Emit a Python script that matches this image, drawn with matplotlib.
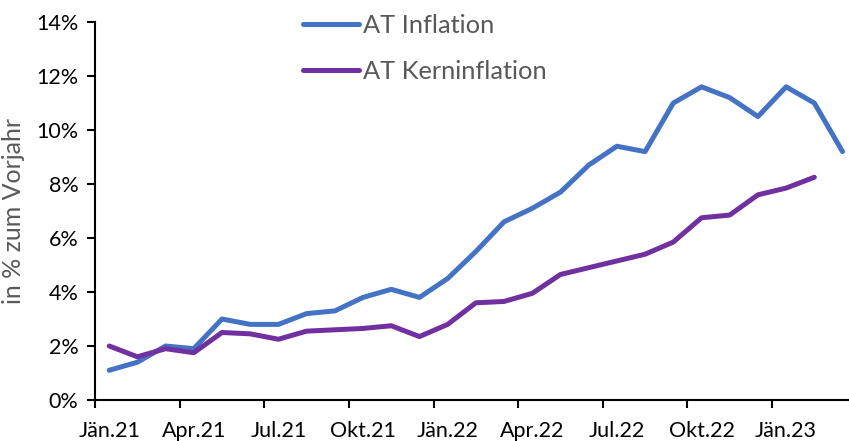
import numpy as np
import matplotlib.pyplot as plt

plt.rcParams['font.family'] = ['Lato', 'DejaVu Sans']

months = ['Jän.21', 'Feb.21', 'Mär.21', 'Apr.21', 'Mai.21', 'Jun.21', 'Jul.21', 'Aug.21', 'Sep.21',
          'Okt.21', 'Nov.21', 'Dez.21', 'Jän.22', 'Feb.22', 'Mär.22', 'Apr.22', 'Mai.22', 'Jun.22',
          'Jul.22', 'Aug.22', 'Sep.22', 'Okt.22', 'Nov.22', 'Dez.22', 'Jän.23', 'Feb.23', 'Mär.23']

# Werte in % zum Vorjahr
inflation = [1.1, 1.4, 2.0, 1.9, 3.0, 2.8, 2.8, 3.2, 3.3, 3.8, 4.1, 3.8,
             4.5, 5.5, 6.6, 7.1, 7.7, 8.7, 9.4, 9.2, 11.0, 11.6, 11.2,
             10.5, 11.6, 11.0, 9.2]
kern = [2.0, 1.6, 1.9, 1.75, 2.5, 2.45, 2.25, 2.55, 2.6, 2.65, 2.75, 2.35,
        2.8, 3.6, 3.65, 3.95, 4.65, 4.9, 5.15, 5.4, 5.85, 6.75, 6.85,
        7.6, 7.85, 8.25]

fig = plt.figure(figsize=(8.49, 4.41), dpi=100)
ax = fig.add_axes([0.112, 0.093, 0.897, 0.857])

x = np.arange(len(months))
ax.plot(x, inflation, color='#4472C4', lw=3.6, solid_capstyle='round', label='AT Inflation')
ax.plot(x[:len(kern)], kern, color='#7030A0', lw=3.6, solid_capstyle='round', label='AT Kerninflation')

ax.set_xlim(-0.5, 26.5)
ax.set_ylim(0, 14)
ax.set_yticks(range(0, 15, 2))
ax.set_yticklabels([f'{v}%' for v in range(0, 15, 2)])

# Striche an den Kategoriegrenzen, Beschriftung in der Mitte
ax.set_xticks(np.arange(-0.5, 27, 3))
ax.set_xticklabels([])
ax.set_xticks(x[::3], minor=True)
ax.set_xticklabels(months[::3], minor=True)
ax.tick_params(axis='x', which='minor', length=0, pad=15, labelsize=15.5)
ax.tick_params(axis='x', which='major', length=6, width=1.5, direction='out')
ax.tick_params(axis='y', length=6, width=1.5, direction='out', labelsize=15.5, pad=6)

for s in ['top', 'right']:
    ax.spines[s].set_visible(False)
for s in ['left', 'bottom']:
    ax.spines[s].set_linewidth(1.5)

ax.set_ylabel('in % zum Vorjahr', color='#595959', fontsize=18, labelpad=8)

leg = ax.legend(loc='upper left', bbox_to_anchor=(303 / 849, 0.968), bbox_transform=fig.transFigure,
                frameon=False, fontsize=18.3, handlelength=2.2, handletextpad=0.16,
                labelspacing=0.9, borderpad=0, borderaxespad=0)
for t in leg.get_texts():
    t.set_color('#595959')

fig.savefig('out.png', dpi=100)
